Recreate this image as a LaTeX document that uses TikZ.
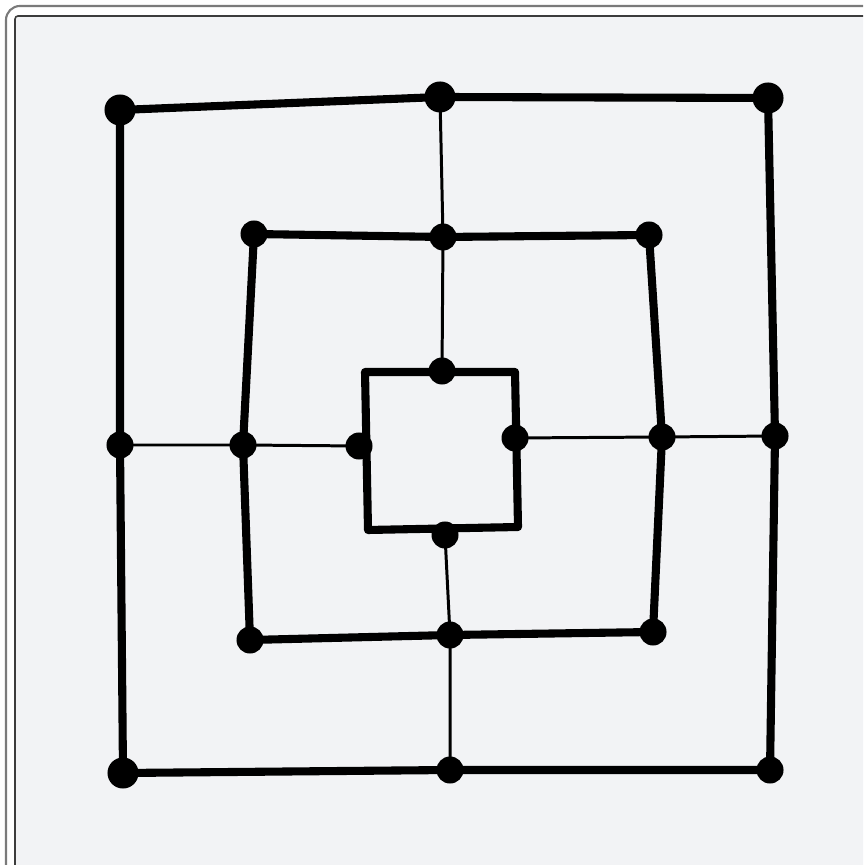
\documentclass[tikz,border=0pt]{standalone}
\usepackage{xcolor}
\definecolor{boardbg}{HTML}{F2F3F5}
\definecolor{frameout}{HTML}{7A7A7A}
\definecolor{framein}{HTML}{3C3C3C}

\begin{document}
\begin{tikzpicture}[x=0.01cm,y=-0.01cm,line cap=round,line join=round,
  spot/.style={circle,fill=black,inner sep=0pt,minimum size=0.27cm},
  bigspot/.style={spot,minimum size=0.31cm},
  ring/.style={line width=2.3pt},
  cross/.style={line width=0.85pt}]
\useasboundingbox (0,0) rectangle (863,865);
\begin{scope}
\clip (0,0) rectangle (863,865);
\fill[white] (0,0) rectangle (863,865);
\draw[frameout,line width=0.6pt,rounded corners=0.14cm] (6,6) rectangle (900,900);
\draw[framein,fill=boardbg,line width=0.45pt,rounded corners=0.03cm] (15,16) rectangle (900,900);
\end{scope}
% outer ring
\node[bigspot] (otl) at (120,110) {};
\node[bigspot] (otm) at (440,97) {};
\node[bigspot] (otr) at (768,98) {};
\node[spot] (oml) at (120,445) {};
\node[spot] (omr) at (775,436) {};
\node[bigspot] (obl) at (123,773) {};
\node[spot] (obm) at (450,770) {};
\node[spot] (obr) at (770,770) {};
% middle ring
\node[spot] (mtl) at (254,234) {};
\node[spot] (mtm) at (443,237) {};
\node[spot] (mtr) at (649,235) {};
\node[spot] (mml) at (243,445) {};
\node[spot] (mmr) at (662,437) {};
\node[spot] (mbl) at (250,640) {};
\node[spot] (mbm) at (450,635) {};
\node[spot] (mbr) at (653,632) {};
% inner ring
\coordinate (itl) at (365,372);
\node[spot] (itm) at (442,371) {};
\coordinate (itr) at (515,372);
\node[spot] (iml) at (359,446) {};
\node[spot] (imr) at (515,438) {};
\coordinate (ibl) at (368,530);
\node[spot] (ibm) at (445,535) {};
\coordinate (ibr) at (518,527);
% squares
\draw[ring] (otl.center) -- (otm.center) -- (otr.center) -- (omr.center) -- (obr.center)
  -- (obm.center) -- (obl.center) -- (oml.center) -- cycle;
\draw[ring] (mtl.center) -- (mtm.center) -- (mtr.center) -- (mmr.center) -- (mbr.center)
  -- (mbm.center) -- (mbl.center) -- (mml.center) -- cycle;
\draw[ring] (itl) -- (itr) -- (ibr) -- (ibl) -- cycle;
% cross lines
\draw[cross] (otm.center) -- (mtm.center) -- (itm.center);
\draw[cross] (oml.center) -- (mml.center) -- (iml.center);
\draw[cross] (imr.center) -- (mmr.center) -- (omr.center);
\draw[cross] (ibm.center) -- (mbm.center) -- (obm.center);
\end{tikzpicture}
\end{document}
